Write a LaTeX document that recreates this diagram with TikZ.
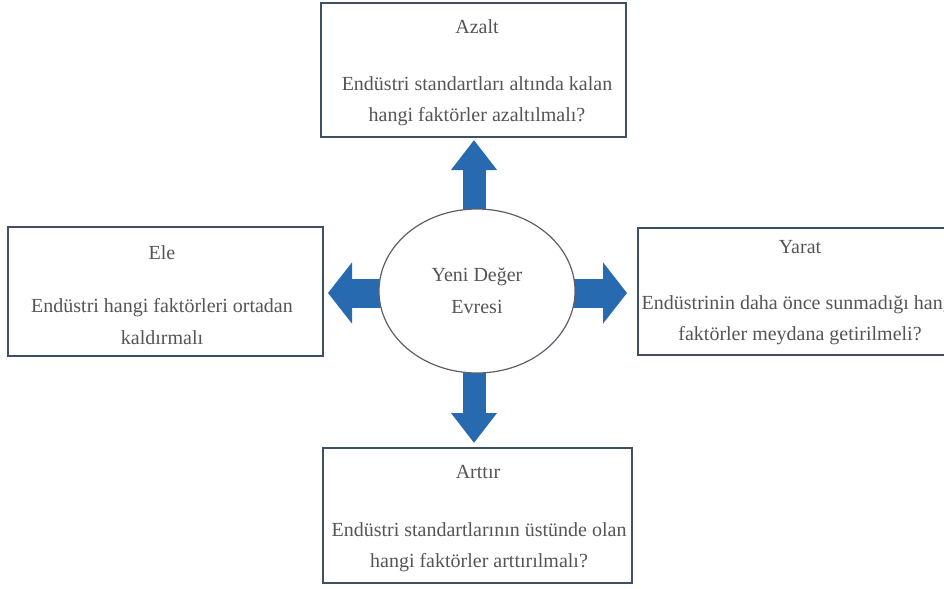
\documentclass[tikz,border=0pt]{standalone}
\usepackage{fontspec}
\setmainfont{Liberation Serif}
\usetikzlibrary{shapes.geometric,arrows.meta,backgrounds}
\definecolor{arrowblue}{RGB}{40,106,176}
\definecolor{boxline}{RGB}{62,80,100}
\definecolor{txtgray}{RGB}{85,85,85}
\definecolor{ellline}{RGB}{95,95,105}
\begin{document}
\begin{tikzpicture}[x=0.75pt,y=-0.75pt,
  box/.style={draw=boxline,line width=1.2pt,fill=white,rectangle,inner sep=0pt},
  ttl/.style={font=\fontsize{15}{18}\selectfont,text=txtgray,inner sep=0pt},
  body/.style={font=\fontsize{15}{23.5}\selectfont,text=txtgray,align=center,inner sep=0pt},
  varrow/.style={arrowblue,line width=17.25pt,-{Triangle[width=33pt,length=22.5pt]}},
  harrow/.style={arrowblue,line width=21.75pt,-{Triangle[width=45pt,length=18pt]}}]
\useasboundingbox (0,0) rectangle (944,588);
% boxes
\node[box,minimum width=228.75pt,minimum height=100.5pt] (topbox) at (473.5,70) {};
\node[box,minimum width=236.25pt,minimum height=96.75pt] (leftbox) at (165.5,291.5) {};
\node[box,minimum width=243pt,minimum height=95.25pt] (rightbox) at (800,291.5) {};
\node[box,minimum width=231.75pt,minimum height=101.25pt] (botbox) at (477.5,515.5) {};
% centre ellipse
\node[ellipse,draw=ellline,line width=0.9pt,fill=white,minimum width=147pt,minimum height=123pt,
      inner sep=0pt,align=center,font=\fontsize{15}{24}\selectfont,text=txtgray] (ell) at (477,291)
      {Yeni Değer\\Evresi};
% arrow tips
\coordinate (tipU) at (474,140);
\coordinate (tipD) at (474,443);
\coordinate (tipL) at (328,293);
\coordinate (tipR) at (627,293);
\begin{scope}[on background layer]
  \fill[white] (0,0) rectangle (944,588);
  \draw[varrow] (ell.center -| tipU) -- (tipU);
  \draw[varrow] (ell.center -| tipD) -- (tipD);
  \draw[harrow] (ell.center |- tipL) -- (tipL);
  \draw[harrow] (ell.center |- tipR) -- (tipR);
\end{scope}
% texts
\node[ttl] (topttl) at (477,27) {Azalt};
\node[body] (toptxt) at (477,101) {Endüstri standartları altında kalan\\hangi faktörler azaltılmalı?};
\node[ttl] (leftttl) at (162,253) {Ele};
\node[body] (lefttxt) at (162,321.5) {Endüstri hangi faktörleri ortadan\\kaldırmalı};
\node[ttl] (rightttl) at (800,247) {Yarat};
\node[body] (righttxt) at (800,320) {Endüstrinin daha önce sunmadığı hangi\\faktörler meydana getirilmeli?};
\node[ttl] (botttl) at (478,472) {Arttır};
\node[body] (bottxt) at (479,547.5) {Endüstri standartlarının üstünde olan\\hangi faktörler arttırılmalı?};
\end{tikzpicture}
\end{document}
